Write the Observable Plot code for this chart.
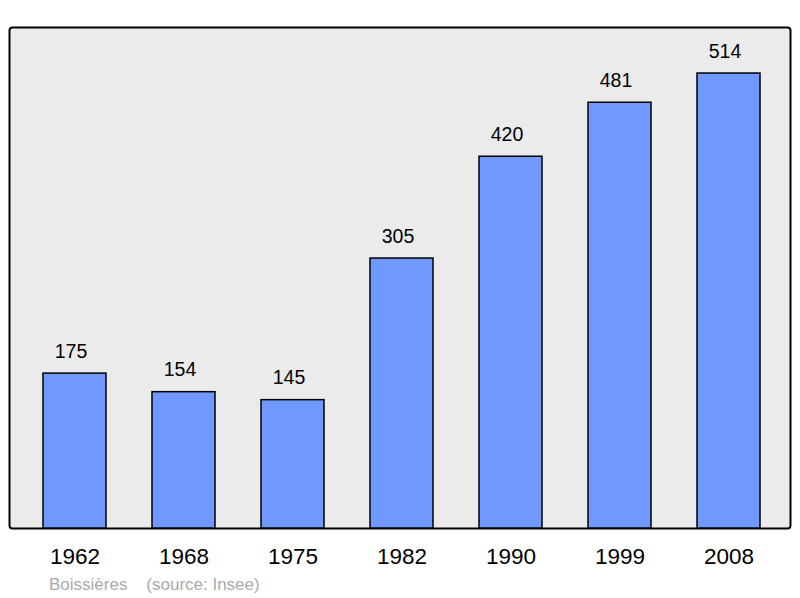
<!DOCTYPE html>
<html>
<head>
<meta charset="utf-8">
<script src="https://cdn.jsdelivr.net/npm/d3@7"></script>
<script src="https://cdn.jsdelivr.net/npm/@observablehq/plot@0.6"></script>
<style>
  body { margin: 0; background: #fff; font-family: "Liberation Sans", Arial, sans-serif; }
  #caption { margin: 5px 0 0 49px; font-size: 17px; line-height: 20px; color: #aaaaaa; white-space: pre; }
</style>
</head>
<body>
<div id="chart"></div>
<div id="caption">Boissières    (source: Insee)</div>
<script>
const years = ["1962", "1968", "1975", "1982", "1990", "1999", "2008"];
const population = [175, 154, 145, 305, 420, 481, 514];

const data = years.map((year, i) => ({year, value: population[i]}));

const chart = Plot.plot({
  width: 800,
  height: 570,
  marginTop: 27,
  marginBottom: 42,
  marginLeft: 9,
  marginRight: 10,
  style: {fontFamily: "Liberation Sans, Arial, sans-serif", background: "#fff"},
  x: {domain: years, range: [42, 761], paddingInner: 0.425, paddingOuter: 0, label: null},
  y: {domain: [0, 566], axis: null},
  marks: [
    Plot.frame({fill: "#ebebeb", stroke: "#000", strokeWidth: 2, rx: 3}),
    Plot.barY(data, {x: "year", y: "value", fill: "#7099ff", stroke: "#000", strokeWidth: 1.5}),
    Plot.text(data, {x: "year", y: "value", text: d => String(d.value), dy: -22, dx: -4, fontSize: 19.5, fill: "#000"}),
    Plot.axisX({tickSize: 0, tickPadding: 20, fontSize: 22.5, color: "#000", label: null})
  ]
});
document.getElementById("chart").append(chart);
</script>
</body>
</html>
